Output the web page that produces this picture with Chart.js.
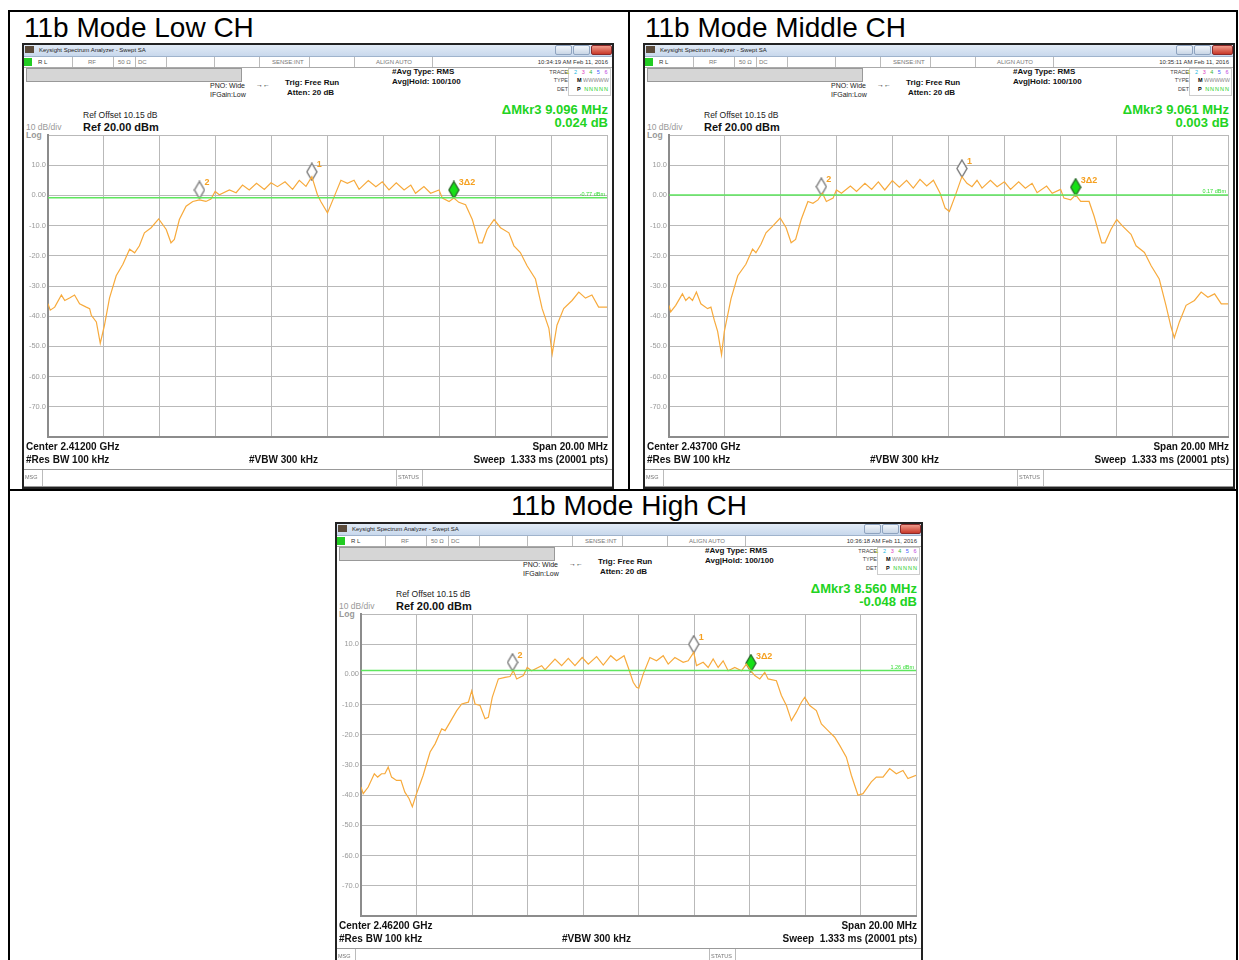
<!DOCTYPE html>
<html>
<head>
<meta charset="utf-8">
<script src="https://cdn.jsdelivr.net/npm/chart.js@4.4.1/dist/chart.umd.min.js"></script>
<style>
html, body { margin: 0; padding: 0; background: #fff; width: 1239px; height: 960px; overflow: hidden; font-family: 'Liberation Sans', Arial, sans-serif; }
.ln { position: absolute; background: #000; }
.cap { position: absolute; font-size: 28px; line-height: 1; color: #000; white-space: nowrap; }
.sa { position: absolute; background: #fff; overflow: hidden; }
.sa div, .sa span.a { position: absolute; white-space: nowrap; line-height: 1; }
.sa .frame { left: 0; top: 0; right: 0; bottom: 0; border: 2px solid #222; box-sizing: border-box; }
.tb { left: 0; top: 0; right: 0; height: 13px; background: linear-gradient(#e6eef8, #c8d8ec); border-bottom: 1px solid #9fb3cc; }
.ic { left: 3px; top: 3px; width: 9px; height: 7px; background: #5a4a3a; }
.tt { left: 17px; top: 3.5px; font-size: 6px; color: #222; }
.bt { top: 2px; height: 8px; border: 1px solid #8ea3bf; border-radius: 2px; background: linear-gradient(#f2f6fb, #c9d6e6); }
.r2 { left: 0; top: 14px; right: 0; height: 10px; border-bottom: 1px solid #aaa; }
.r2t { top: 16px; font-size: 6px; color: #333; }
.sp { top: 14px; height: 10px; width: 1px; background: #bbb; }
.gb { left: 4px; top: 25px; width: 214px; height: 12px; background: #d6d6d6; border: 1px solid #999; }
.s7 { font-size: 7px; color: #222; }
.b8 { font-size: 8px; font-weight: bold; color: #111; }
.tiny { font-size: 5.5px; color: #444; }
.grn { color: #22d322; font-weight: bold; font-size: 13px; }
.ft { font-size: 10px; font-weight: bold; color: #111; }
.st { left: 0; right: 0; top: 426px; height: 16px; border-top: 1px solid #999; border-bottom: 1px solid #999; }
.cv { left: 2px; top: 85px; }
</style>
</head>
<body>
<div id="page"></div>
<script>
// spectrum traces, frequency offset from centre (MHz) and level (dBm)
const lowFreq = [
  -10.00, -9.92, -9.76, -9.52, -9.40, -9.23, -9.05, -8.87, -8.63, -8.51,
  -8.45, -8.27, -8.13, -7.98, -7.80, -7.56, -7.32, -7.08, -6.90, -6.73,
  -6.55, -6.31, -6.04, -5.77, -5.60, -5.48, -5.30, -5.06, -4.82, -4.58,
  -4.35, -4.17, -4.02, -3.87, -3.51, -3.27, -3.04, -2.80, -2.54, -2.26,
  -2.02, -1.79, -1.52, -1.25, -1.01, -0.77, -0.56, -0.36, -0.24, 0.00,
  0.24, 0.48, 0.71, 0.95, 1.13, 1.46, 1.73, 1.96, 2.20, 2.46,
  2.74, 2.98, 3.15, 3.45, 3.69, 3.99, 4.11, 4.35, 4.52, 4.70,
  4.94, 5.18, 5.42, 5.54, 5.71, 5.96, 6.19, 6.49, 6.67, 6.90,
  7.14, 7.44, 7.68, 7.92, 8.04, 8.21, 8.45, 8.75, 8.99, 9.23,
  9.46, 9.70, 9.94, 10.00
];
const lowLevel = [
  -35.9, -38.0, -37.0, -33.0, -34.8, -34.0, -33.0, -35.9, -37.0, -37.5,
  -39.7, -41.9, -49.0, -43.0, -34.0, -26.6, -22.8, -17.8, -19.0, -16.7,
  -12.4, -10.7, -7.8, -11.3, -15.7, -14.6, -8.0, -3.6, -2.0, -1.5,
  -2.0, -1.2, 1.3, 0.2, 1.8, 0.9, 3.4, 1.8, 4.0, 2.0,
  4.2, 2.9, 4.5, 2.0, 5.0, 3.0, 6.2, 0.2, -2.0, -5.8,
  -0.4, 5.0, 4.0, 5.0, 2.0, 4.9, 2.9, 4.5, 1.8, 4.2,
  1.8, 3.4, 0.7, 2.9, 0.7, 1.8, -0.9, -2.0, -0.9, -2.3,
  -3.1, -8.0, -15.7, -15.7, -11.3, -8.0, -10.7, -12.4, -16.7, -18.9,
  -23.3, -27.7, -37.5, -44.0, -52.5, -43.0, -37.5, -34.8, -32.0, -34.0,
  -33.0, -37.0, -37.0, -37.0
];
const midFreq = [
  -10.00, -9.94, -9.76, -9.52, -9.40, -9.28, -9.16, -9.02, -8.86, -8.62,
  -8.50, -8.38, -8.26, -8.12, -8.02, -7.78, -7.54, -7.25, -7.01, -6.89,
  -6.71, -6.53, -6.29, -6.02, -5.81, -5.63, -5.47, -5.27, -5.03, -4.85,
  -4.67, -4.51, -4.37, -4.13, -4.01, -3.83, -3.51, -3.29, -2.99, -2.75,
  -2.51, -2.28, -2.01, -1.76, -1.50, -1.26, -1.02, -0.78, -0.54, -0.30,
  -0.12, 0.03, 0.23, 0.48, 0.66, 0.84, 1.02, 1.20, 1.50, 1.74,
  2.00, 2.22, 2.51, 2.75, 2.99, 3.17, 3.51, 3.71, 4.01, 4.13,
  4.37, 4.55, 4.73, 5.03, 5.21, 5.48, 5.60, 5.81, 6.02, 6.23,
  6.53, 6.71, 7.01, 7.25, 7.54, 7.78, 7.96, 8.08, 8.26, 8.50,
  8.80, 9.04, 9.28, 9.52, 9.76, 10.00
];
const midLevel = [
  -36.4, -38.6, -36.4, -32.6, -34.8, -33.7, -34.8, -32.0, -35.9, -37.5,
  -37.0, -41.3, -45.0, -52.8, -45.0, -34.2, -26.6, -22.8, -17.8, -19.0,
  -16.2, -12.4, -10.2, -7.5, -10.7, -15.7, -14.6, -8.0, -2.0, -2.6,
  -1.5, 0.7, -2.0, -0.9, 1.8, 0.7, 3.1, 1.3, 4.0, 2.0,
  4.5, 1.8, 4.9, 2.7, 5.0, 2.4, 5.3, 3.1, 5.0, 0.7,
  -4.2, -5.3, -0.4, 6.2, 4.0, 2.9, 5.0, 2.4, 5.0, 2.9,
  4.5, 2.0, 4.5, 2.4, 4.0, 0.9, 3.1, 0.7, 2.0, -0.9,
  -1.5, 0.2, -2.0, -2.0, -6.9, -15.7, -15.7, -11.3, -8.0, -10.2,
  -12.9, -16.7, -18.9, -23.3, -27.7, -36.4, -43.5, -47.1, -41.9, -36.4,
  -34.8, -32.0, -33.7, -32.6, -35.9, -35.9
];
const highFreq = [
  -10.00, -9.92, -9.74, -9.52, -9.40, -9.26, -9.14, -9.02, -8.90, -8.72,
  -8.56, -8.42, -8.27, -8.15, -8.00, -7.76, -7.51, -7.33, -7.09, -6.97,
  -6.79, -6.55, -6.37, -6.13, -6.01, -5.89, -5.71, -5.53, -5.41, -5.27,
  -5.05, -4.81, -4.63, -4.51, -4.39, -4.15, -4.01, -3.85, -3.49, -3.37,
  -3.01, -2.77, -2.53, -2.29, -2.03, -1.81, -1.51, -1.27, -1.00, -0.79,
  -0.52, -0.37, -0.19, -0.07, 0.01, 0.17, 0.41, 0.65, 0.89, 1.07,
  1.31, 1.61, 1.79, 1.99, 2.09, 2.33, 2.51, 2.69, 2.87, 3.05,
  3.23, 3.47, 3.71, 3.89, 4.05, 4.19, 4.37, 4.55, 4.67, 4.97,
  5.15, 5.33, 5.51, 5.69, 5.87, 5.99, 6.17, 6.41, 6.59, 6.83,
  7.07, 7.25, 7.49, 7.67, 7.91, 8.09, 8.39, 8.57, 8.81, 9.05,
  9.29, 9.53, 9.71, 10.00
];
const highLevel = [
  -37.3, -39.5, -37.3, -32.9, -34.0, -32.9, -32.9, -30.7, -34.0, -35.1,
  -35.1, -39.0, -41.1, -43.8, -39.5, -33.4, -25.7, -23.0, -18.0, -18.6,
  -15.8, -12.0, -9.8, -9.2, -5.4, -9.8, -10.3, -14.7, -14.2, -7.6,
  -1.5, -1.0, -0.7, 1.2, -1.5, -0.4, 2.3, 1.2, 2.9, 1.5,
  5.1, 2.9, 5.3, 2.9, 5.6, 3.4, 5.9, 3.1, 6.2, 4.5,
  6.2, 2.3, -2.6, -4.3, -4.6, 0.1, 5.6, 4.5, 6.2, 3.4,
  5.6, 4.0, 4.5, 7.3, 2.9, 4.0, 2.3, 5.1, 2.3, 4.5,
  1.2, 2.3, 1.2, 3.4, 1.2, -0.4, -1.5, 0.7, -1.5, -2.1,
  -7.0, -10.3, -15.3, -12.5, -9.2, -7.6, -10.3, -12.0, -16.4, -18.6,
  -20.8, -23.5, -27.4, -33.4, -40.0, -39.5, -35.6, -34.0, -34.0, -31.2,
  -32.9, -31.8, -34.5, -33.4
];

// markers 1, 2, 3 (diamond centres)
const markerNames = ['1', '2', '3Δ2'];
const lowMarkerFreq = [-0.56, -4.58, 4.52];
const lowMarkerLevel = [7.8, 1.8, 1.8];
const midMarkerFreq = [0.48, -4.55, 4.55];
const midMarkerLevel = [8.9, 2.9, 2.7];
const highMarkerFreq = [1.99, -4.54, 4.05];
const highMarkerLevel = [10.0, 4.0, 3.7];

// display line and labels
const displayLine = [-0.77, 0.17, 1.26];
const displayLineLabels = ['-0.77 dBm', '0.17 dBm', '1.26 dBm'];
const levelTicks = [10, 0, -10, -20, -30, -40, -50, -60, -70];
const levelTickLabels = ['10.0', '0.00', '-10.0', '-20.0', '-30.0', '-40.0', '-50.0', '-60.0', '-70.0'];

const panelTitles = ['11b Mode Low CH', '11b Mode Middle CH', '11b Mode High CH'];
const centerLabels = ['Center 2.41200 GHz', 'Center 2.43700 GHz', 'Center 2.46200 GHz'];
const clockLabels = ['10:34:19 AM Feb 11, 2016', '10:35:11 AM Feb 11, 2016', '10:36:18 AM Feb 11, 2016'];
const deltaFreqLabels = ['ΔMkr3 9.096 MHz', 'ΔMkr3 9.061 MHz', 'ΔMkr3 8.560 MHz'];
const deltaLevelLabels = ['0.024 dB', '0.003 dB', '-0.048 dB'];

const traces = [
  { f: lowFreq, v: lowLevel, mf: lowMarkerFreq, mv: lowMarkerLevel },
  { f: midFreq, v: midLevel, mf: midMarkerFreq, mv: midMarkerLevel },
  { f: highFreq, v: highLevel, mf: highMarkerFreq, mv: highMarkerLevel }
];

// page layout
const boxes = [
  { left: 22, top: 43, w: 592, h: 446 },
  { left: 643, top: 43, w: 592, h: 446 },
  { left: 335, top: 522, w: 588, h: 446 }
];

const page = document.getElementById('page');
function line(x, y, w, h) {
  const d = document.createElement('div');
  d.className = 'ln';
  d.style.cssText = `left:${x}px;top:${y}px;width:${w}px;height:${h}px`;
  page.appendChild(d);
}
line(8, 10, 1230, 2);
line(8, 10, 2, 950);
line(1236, 10, 2, 950);
line(628, 10, 2, 480);
line(8, 489, 1230, 2);

function caption(text, x, y, center) {
  const d = document.createElement('div');
  d.className = 'cap';
  d.textContent = text;
  d.style.left = x + 'px';
  d.style.top = y + 'px';
  if (center) d.style.transform = 'translateX(-50%)';
  page.appendChild(d);
}
caption(panelTitles[0], 24, 14);
caption(panelTitles[1], 645, 14);
caption(panelTitles[2], 629, 492, true);

function diamond(fill, stroke) {
  const c = document.createElement('canvas');
  c.width = 12; c.height = 19;
  const g = c.getContext('2d');
  g.beginPath();
  g.moveTo(6, 1); g.lineTo(11, 9.5); g.lineTo(6, 18); g.lineTo(1, 9.5); g.closePath();
  g.fillStyle = fill; g.fill();
  g.lineWidth = 1.4; g.strokeStyle = stroke; g.stroke();
  return c;
}
const openDiamond = diamond('#ffffff', '#7a7a7a');
const activeDiamond = diamond('#16e016', '#2a6a2a');

const markerLabelPlugin = {
  id: 'markerLabels',
  afterDatasetsDraw(chart, args, opts) {
    const xs = chart.scales.x, ys = chart.scales.y, ctx = chart.ctx;
    ctx.save();
    ctx.fillStyle = '#f5a020';
    ctx.font = 'bold 9px "Liberation Sans", Arial, sans-serif';
    ctx.textBaseline = 'middle';
    opts.freq.forEach((f, i) => {
      const px = xs.getPixelForValue(f), py = ys.getPixelForValue(opts.level[i]);
      ctx.fillText(opts.names[i], px + 5, py - 7);
    });
    ctx.fillStyle = '#33dd33';
    ctx.font = '5.5px "Liberation Sans", Arial, sans-serif';
    ctx.textAlign = 'right';
    ctx.fillText(opts.lineLabel, chart.chartArea.right - 2, ys.getPixelForValue(opts.lineLevel) - 3);
    ctx.restore();
  }
};

function buildPanel(i) {
  const b = boxes[i];
  const p = document.createElement('div');
  p.className = 'sa';
  p.style.cssText = `left:${b.left}px;top:${b.top}px;width:${b.w}px;height:${b.h}px`;
  const W = b.w;
  p.innerHTML = `
    <div class="tb"></div>
    <div class="ic"></div>
    <div class="tt">Keysight Spectrum Analyzer - Swept SA</div>
    <div class="bt" style="right:42px;width:15px"></div>
    <div class="bt" style="right:24px;width:15px"></div>
    <div class="bt" style="right:2px;width:19px;border-color:#8a2a2a;background:linear-gradient(#f09a8a,#c8392a)"></div>
    <div class="r2"></div>
    <div style="left:2px;top:15px;width:8px;height:8px;background:#22cc22"></div>
    <div class="r2t" style="left:16px">R L</div>
    <div class="r2t" style="left:66px;color:#777">RF</div>
    <div class="r2t" style="left:96px;color:#777">50 Ω</div>
    <div class="r2t" style="left:116px;color:#777">DC</div>
    <div class="r2t" style="left:250px;color:#777">SENSE:INT</div>
    <div class="r2t" style="left:354px;color:#777">ALIGN AUTO</div>
    <div class="r2t" style="right:6px">${clockLabels[i]}</div>
    ${[50, 91, 113, 144, 192, 237, 287, 332, 410].map(x => `<div class="sp" style="left:${x}px"></div>`).join('')}
    <div class="gb"></div>
    <div class="s7" style="left:188px;top:39px">PNO: Wide</div>
    <div class="s7" style="left:188px;top:48px">IFGain:Low</div>
    <div class="s7" style="left:234px;top:38px">→←</div>
    <div class="b8" style="left:263px;top:36px">Trig: Free Run</div>
    <div class="b8" style="left:265px;top:46px">Atten: 20 dB</div>
    <div class="b8" style="left:370px;top:25px">#Avg Type: RMS</div>
    <div class="b8" style="left:370px;top:35px">Avg|Hold: 100/100</div>
    <div class="tiny" style="right:46px;top:27px">TRACE</div>
    <div class="tiny" style="right:46px;top:35px">TYPE</div>
    <div class="tiny" style="right:46px;top:44px">DET</div>
    <div style="right:3px;top:25px;width:41px;height:26px;border:1px solid #ccc"></div>
    <div class="tiny" style="right:5px;top:27px;letter-spacing:1.5px"><span style="color:#c8c800">1</span> <span style="color:#20b8e0">2</span> <span style="color:#e040c0">3</span> <span style="color:#30b030">4</span> <span style="color:#4060ff">5</span> <span style="color:#c040e0">6</span></div>
    <div class="tiny" style="right:5px;top:35px"><b style="color:#000">M</b> <span style="color:#888">WWWWW</span></div>
    <div class="tiny" style="right:5px;top:44px;letter-spacing:1px"><b style="color:#000">P</b> <span style="color:#22cc22">NNNNN</span></div>
    <div class="s7" style="left:61px;top:68px;font-size:8.5px">Ref Offset 10.15 dB</div>
    <div style="left:61px;top:79px;font-size:11px;font-weight:bold;color:#111">Ref 20.00 dBm</div>
    <div style="left:4px;top:80px;font-size:8.5px;color:#999">10 dB/div</div>
    <div style="left:4px;top:88px;font-size:8.5px;font-weight:bold;color:#999">Log</div>
    <div class="grn" style="right:6px;top:60px">${deltaFreqLabels[i]}</div>
    <div class="grn" style="right:6px;top:73px">${deltaLevelLabels[i]}</div>
    <div class="cv"><canvas id="c${i}" width="${W - 2}" height="316"></canvas></div>
    <div class="ft" style="left:4px;top:399px">${centerLabels[i]}</div>
    <div class="ft" style="right:6px;top:399px">Span 20.00 MHz</div>
    <div class="ft" style="left:4px;top:412px">#Res BW 100 kHz</div>
    <div class="ft" style="left:227px;top:412px">#VBW 300 kHz</div>
    <div class="ft" style="right:6px;top:412px">Sweep &nbsp;1.333 ms (20001 pts)</div>
    <div class="st"></div>
    <div class="tiny" style="left:3px;top:432px;color:#777">MSG</div>
    <div class="sp" style="left:20px;top:427px;height:16px"></div>
    <div class="tiny" style="left:376px;top:432px;color:#777">STATUS</div>
    <div class="sp" style="left:374px;top:427px;height:16px"></div>
    <div class="sp" style="left:400px;top:427px;height:16px"></div>
    <div class="frame"></div>
  `;
  page.appendChild(p);

  const t = traces[i];
  const points = t.f.map((f, k) => ({ x: f, y: t.v[k] }));
  const markerPoints = t.mf.map((f, k) => ({ x: f, y: t.mv[k] }));

  new Chart(document.getElementById('c' + i), {
    type: 'line',
    data: {
      datasets: [
        {
          data: [{ x: -10, y: displayLine[i] }, { x: 10, y: displayLine[i] }],
          borderColor: '#5ee65e',
          borderWidth: 1.5,
          pointRadius: 0
        },
        {
          data: points,
          borderColor: '#f7aa3c',
          borderWidth: 1.2,
          pointRadius: 0,
          tension: 0
        },
        {
          data: markerPoints,
          showLine: false,
          pointStyle: [openDiamond, openDiamond, activeDiamond],
          pointRadius: 6
        }
      ]
    },
    options: {
      responsive: false,
      animation: false,
      layout: { padding: { top: 1, right: 0, bottom: 1, left: 0 } },
      plugins: {
        legend: { display: false },
        tooltip: { enabled: false },
        markerLabels: {
          freq: t.mf, level: t.mv, names: markerNames,
          lineLevel: displayLine[i], lineLabel: displayLineLabels[i]
        }
      },
      scales: {
        x: {
          type: 'linear',
          min: -10,
          max: 10,
          ticks: { display: false, stepSize: 2 },
          grid: { color: '#b9b9b9', lineWidth: 1, drawTicks: false },
          border: { color: '#8c8c8c', width: 2 }
        },
        y: {
          min: -80,
          max: 20,
          afterFit: s => { s.width = 24; },
          afterBuildTicks: s => { s.ticks = [20].concat(levelTicks, [-80]).map(v => ({ value: v })); },
          ticks: {
            padding: 2,
            color: '#9a9a9a',
            font: { size: 7.5, family: '"Liberation Sans", Arial, sans-serif' },
            callback: v => {
              const k = levelTicks.indexOf(v);
              return k < 0 ? '' : levelTickLabels[k];
            }
          },
          grid: { color: '#b9b9b9', lineWidth: 1, drawTicks: false },
          border: { color: '#8c8c8c', width: 2 }
        }
      }
    },
    plugins: [markerLabelPlugin]
  });
}

[0, 1, 2].forEach(buildPanel);
</script>
</body>
</html>
